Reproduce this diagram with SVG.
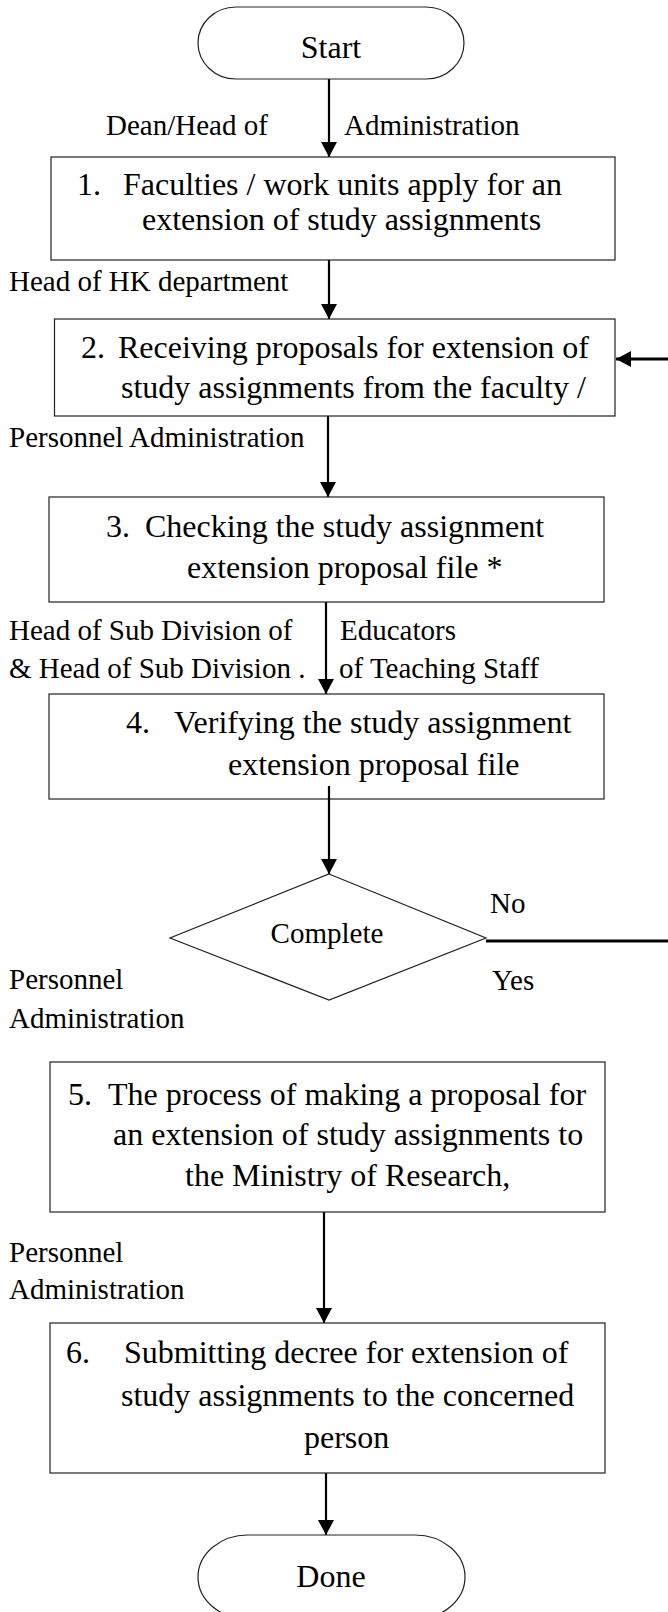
<svg xmlns="http://www.w3.org/2000/svg" width="668" height="1612" viewBox="0 0 668 1612">
<defs>
<marker id="arr" markerUnits="userSpaceOnUse" viewBox="0 0 15 16" refX="15" refY="8" markerWidth="15" markerHeight="16" orient="auto">
<path d="M0,0 L15,8 L0,16 z" fill="#000"/>
</marker>
</defs>
<style>
.box{fill:#fff;stroke:#222;stroke-width:1.2}
.t{font-family:"Liberation Serif","Times New Roman",serif;font-size:32px;fill:#000}
.l{font-family:"Liberation Serif","Times New Roman",serif;font-size:29px;fill:#000}
.c{text-anchor:middle}
.ln{stroke:#000;stroke-width:2.2;fill:none}
</style>
<rect width="668" height="1612" fill="#fff"/>
<g id="connectors">
<line class="ln" x1="329" y1="79" x2="329" y2="157" marker-end="url(#arr)"/>
<line class="ln" x1="329" y1="260" x2="329" y2="319" marker-end="url(#arr)"/>
<line class="ln" x1="328" y1="416" x2="328" y2="497" marker-end="url(#arr)"/>
<line class="ln" x1="326" y1="602" x2="326" y2="694" marker-end="url(#arr)"/>
<line class="ln" x1="329" y1="786" x2="329" y2="874" marker-end="url(#arr)"/>
<line class="ln" x1="486" y1="941" x2="668" y2="941" style="stroke-width:2.8"/>
<line class="ln" x1="668" y1="359" x2="616" y2="359" marker-end="url(#arr)" style="stroke-width:2.8"/>
<line class="ln" x1="324" y1="1212" x2="324" y2="1323" marker-end="url(#arr)"/>
<line class="ln" x1="326" y1="1473" x2="326" y2="1535" marker-end="url(#arr)"/>
</g>
<g id="labels">
<text class="l" x="106" y="135">Dean/Head of</text>
<text class="l" x="344" y="135">Administration</text>
<text class="l" x="9" y="291">Head of HK department</text>
<text class="l" x="9" y="447">Personnel Administration</text>
<text class="l" x="9" y="640">Head of Sub Division of</text>
<text class="l" x="9" y="678">&amp; Head of Sub Division .</text>
<text class="l" x="340" y="640">Educators</text>
<text class="l" x="339" y="678">of Teaching Staff</text>
<text class="l" x="490" y="913">No</text>
<text class="l" x="492" y="990">Yes</text>
<text class="l" x="9" y="989">Personnel</text>
<text class="l" x="9" y="1028">Administration</text>
<text class="l" x="9" y="1262">Personnel</text>
<text class="l" x="9" y="1299">Administration</text>
</g>
<g id="start">
<rect class="box" x="198" y="7" width="266" height="72" rx="38" ry="36"/>
<text class="t c" x="331" y="58">Start</text>
</g>
<g id="step1">
<rect class="box" x="51" y="157" width="564" height="103"/>
<text class="t" x="77" y="195">1.</text>
<text class="t" x="123" y="195">Faculties / work units apply for an</text>
<text class="t" x="142" y="230">extension of study assignments</text>
</g>
<g id="step2">
<rect class="box" x="54.5" y="319" width="560.5" height="97"/>
<text class="t" x="81" y="358">2.</text>
<text class="t" x="118" y="358">Receiving proposals for extension of</text>
<text class="t" x="121" y="398">study assignments from the faculty /</text>
</g>
<g id="step3">
<rect class="box" x="49" y="497" width="555" height="105"/>
<text class="t" x="106" y="537">3.</text>
<text class="t" x="145" y="537">Checking the study assignment</text>
<text class="t" x="187" y="578">extension proposal file *</text>
</g>
<g id="step4">
<rect class="box" x="49" y="694" width="555" height="105"/>
<text class="t" x="126" y="733">4.</text>
<text class="t" x="174" y="733">Verifying the study assignment</text>
<text class="t" x="228" y="775">extension proposal file</text>
</g>
<line class="ln" x1="329" y1="786" x2="329" y2="800"/>
<g id="decision">
<polygon class="box" points="329,874 486,938 329,1000 170,938"/>
<text class="l c" x="327" y="943">Complete</text>
</g>
<g id="step5">
<rect class="box" x="50" y="1062" width="555" height="150"/>
<text class="t" x="68" y="1105">5.</text>
<text class="t" x="108" y="1105">The process of making a proposal for</text>
<text class="t" x="113" y="1145">an extension of study assignments to</text>
<text class="t" x="185" y="1186">the Ministry of Research,</text>
</g>
<g id="step6">
<rect class="box" x="50" y="1323" width="555" height="150"/>
<text class="t" x="66" y="1363">6.</text>
<text class="t" x="124" y="1363">Submitting decree for extension of</text>
<text class="t" x="121" y="1406">study assignments to the concerned</text>
<text class="t" x="304" y="1448">person</text>
</g>
<g id="done">
<rect class="box" x="198" y="1535" width="267" height="84" rx="50" ry="42"/>
<text class="t c" x="331" y="1587">Done</text>
</g>
</svg>
